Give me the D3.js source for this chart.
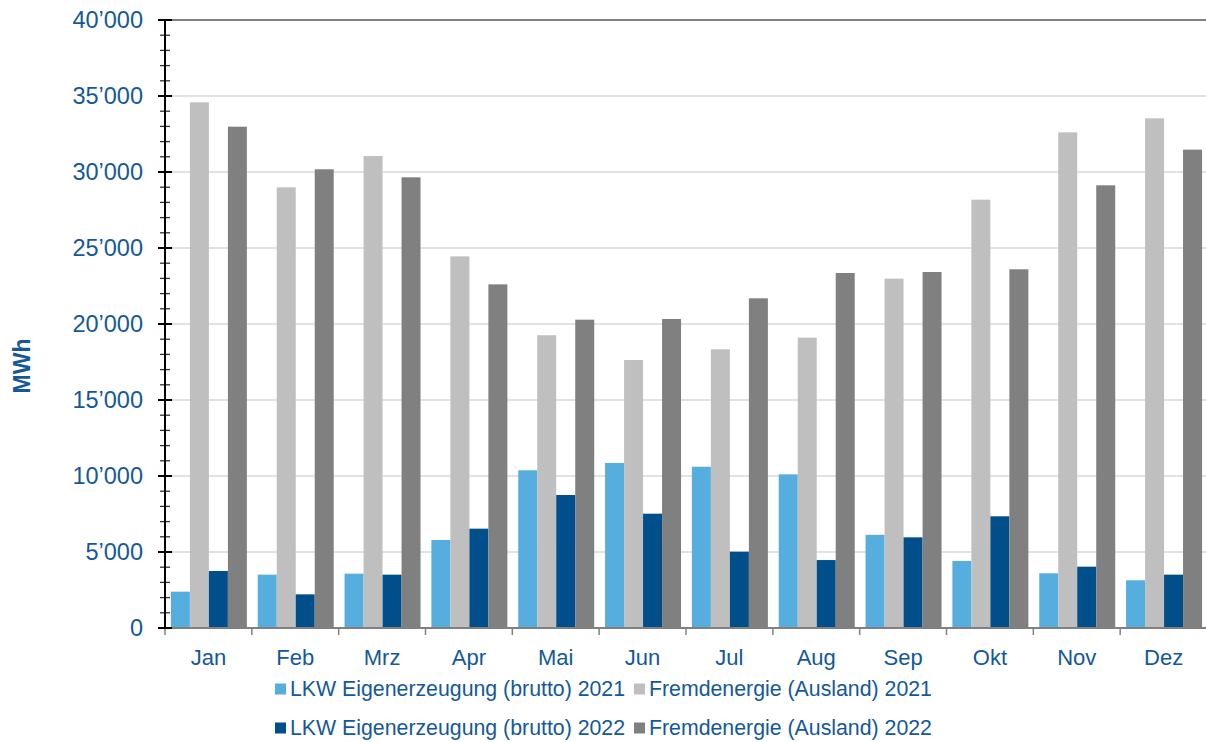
<!DOCTYPE html>
<html>
<head>
<meta charset="utf-8">
<script src="https://cdn.jsdelivr.net/npm/d3@7"></script>
<style>
  html, body { margin: 0; padding: 0; background: #fff; }
  svg { display: block; }
  text { font-family: "Liberation Sans", Arial, sans-serif; }
</style>
</head>
<body>
<svg id="chart" width="1206" height="742"></svg>
<script>
const months = ["Jan","Feb","Mrz","Apr","Mai","Jun","Jul","Aug","Sep","Okt","Nov","Dez"];
const seriesNames = [
  "LKW Eigenerzeugung (brutto) 2021",
  "Fremdenergie (Ausland) 2021",
  "LKW Eigenerzeugung (brutto) 2022",
  "Fremdenergie (Ausland) 2022"
];
const lkw2021  = [2390, 3510, 3575, 5790, 10375, 10855, 10610, 10110, 6130, 4410, 3600, 3140];
const fremd2021 = [34585, 28990, 31050, 24450, 19260, 17630, 18335, 19100, 22985, 28180, 32610, 33530];
const lkw2022  = [3750, 2215, 3510, 6535, 8750, 7520, 5020, 4470, 5965, 7350, 4035, 3510];
const fremd2022 = [32980, 30180, 29650, 22610, 20285, 20330, 21690, 23355, 23420, 23600, 29125, 31470];
const yTicks = [0, 5000, 10000, 15000, 20000, 25000, 30000, 35000, 40000];
const colors = ["#55aedd", "#bfbfbf", "#004f8a", "#808080"];
const seriesValues = [lkw2021, fremd2021, lkw2022, fremd2022];

(function () {
const textColor = "#14589a";
const svg = d3.select("#chart");
const mLeft = 165, mRight = 1207, mTop = 20, mBottom = 628;

const x0 = d3.scaleBand().domain(months).range([mLeft, mRight]).padding(0);
const bw = x0.bandwidth();
const x1 = d3.scaleBand().domain(d3.range(4)).range([bw * 0.068, bw * 0.943]).padding(0);
const y = d3.scaleLinear().domain([0, 40000]).range([mBottom, mTop]);

const fmt = d3.formatLocale({decimal: ".", thousands: "\u2019", grouping: [3], currency: ["", ""]}).format(",d");

// gridlines
svg.append("g").selectAll("line").data(yTicks.filter(d => d > 0 && d < 40000)).join("line")
  .attr("x1", mLeft).attr("x2", mRight)
  .attr("y1", d => y(d)).attr("y2", d => y(d))
  .attr("stroke", "#d9d9d9").attr("stroke-width", 1.5);

// top border line
svg.append("line").attr("x1", mLeft).attr("x2", mRight).attr("y1", y(40000)).attr("y2", y(40000))
  .attr("stroke", "#808080").attr("stroke-width", 2);

// bars
const groups = svg.append("g").selectAll("g").data(months).join("g")
  .attr("transform", d => `translate(${x0(d)},0)`);
groups.selectAll("rect").data((m, i) => seriesValues.map((s, k) => ({k, v: s[i]}))).join("rect")
  .attr("x", d => x1(d.k)).attr("width", x1.bandwidth())
  .attr("y", d => y(d.v)).attr("height", d => y(0) - y(d.v))
  .attr("fill", d => colors[d.k]);

// x axis
const xAxis = svg.append("g").attr("transform", `translate(0,${mBottom})`);
xAxis.append("line").attr("x1", mLeft).attr("x2", mRight).attr("y1", 0).attr("y2", 0)
  .attr("stroke", "#808080").attr("stroke-width", 2);
xAxis.selectAll("line.tk").data(months).join("line").attr("class", "tk")
  .attr("x1", d => x0(d)).attr("x2", d => x0(d)).attr("y1", 0).attr("y2", 7)
  .attr("stroke", "#808080").attr("stroke-width", 1.5);
xAxis.selectAll("text").data(months).join("text")
  .attr("x", d => x0(d) + bw / 2).attr("y", 37)
  .attr("text-anchor", "middle").attr("fill", textColor)
  .attr("font-size", 22).text(d => d);

// y axis
const yAxis = svg.append("g");
const minor = d3.range(0, 40001, 1000).filter(d => d % 5000 !== 0);
yAxis.selectAll("line.minor").data(minor).join("line").attr("class", "minor")
  .attr("x1", mLeft - 5).attr("x2", mLeft + 5).attr("y1", d => y(d)).attr("y2", d => y(d))
  .attr("stroke", "#333").attr("stroke-width", 1.3);
yAxis.selectAll("line.major").data(yTicks).join("line").attr("class", "major")
  .attr("x1", mLeft - 7).attr("x2", mLeft + 7).attr("y1", d => y(d)).attr("y2", d => y(d))
  .attr("stroke", "#000").attr("stroke-width", 2);
yAxis.append("line").attr("x1", mLeft).attr("x2", mLeft).attr("y1", mTop).attr("y2", mBottom + 1)
  .attr("stroke", "#000").attr("stroke-width", 2);
yAxis.selectAll("text").data(yTicks).join("text")
  .attr("x", 143).attr("y", d => y(d)).attr("dy", "0.35em")
  .attr("text-anchor", "end").attr("fill", textColor).attr("font-size", 23.5)
  .text(d => fmt(d));

svg.append("text")
  .attr("transform", "translate(30,366) rotate(-90)")
  .attr("text-anchor", "middle").attr("fill", textColor)
  .attr("font-size", 23).attr("font-weight", "bold").text("MWh");

// legend
const legendPos = [
  {x: 275, y: 689}, {x: 634, y: 689},
  {x: 275, y: 728}, {x: 634, y: 728}
];
const lg = svg.append("g").selectAll("g").data(seriesNames).join("g")
  .attr("transform", (d, i) => `translate(${legendPos[i].x},${legendPos[i].y})`);
lg.append("rect").attr("x", 0).attr("y", -5.5).attr("width", 11).attr("height", 11)
  .attr("fill", (d, i) => colors[i]);
lg.append("text").attr("x", 15).attr("y", 0).attr("dy", "0.35em")
  .attr("fill", textColor).attr("font-size", 21.3).text(d => d);
})();
</script>
</body>
</html>
